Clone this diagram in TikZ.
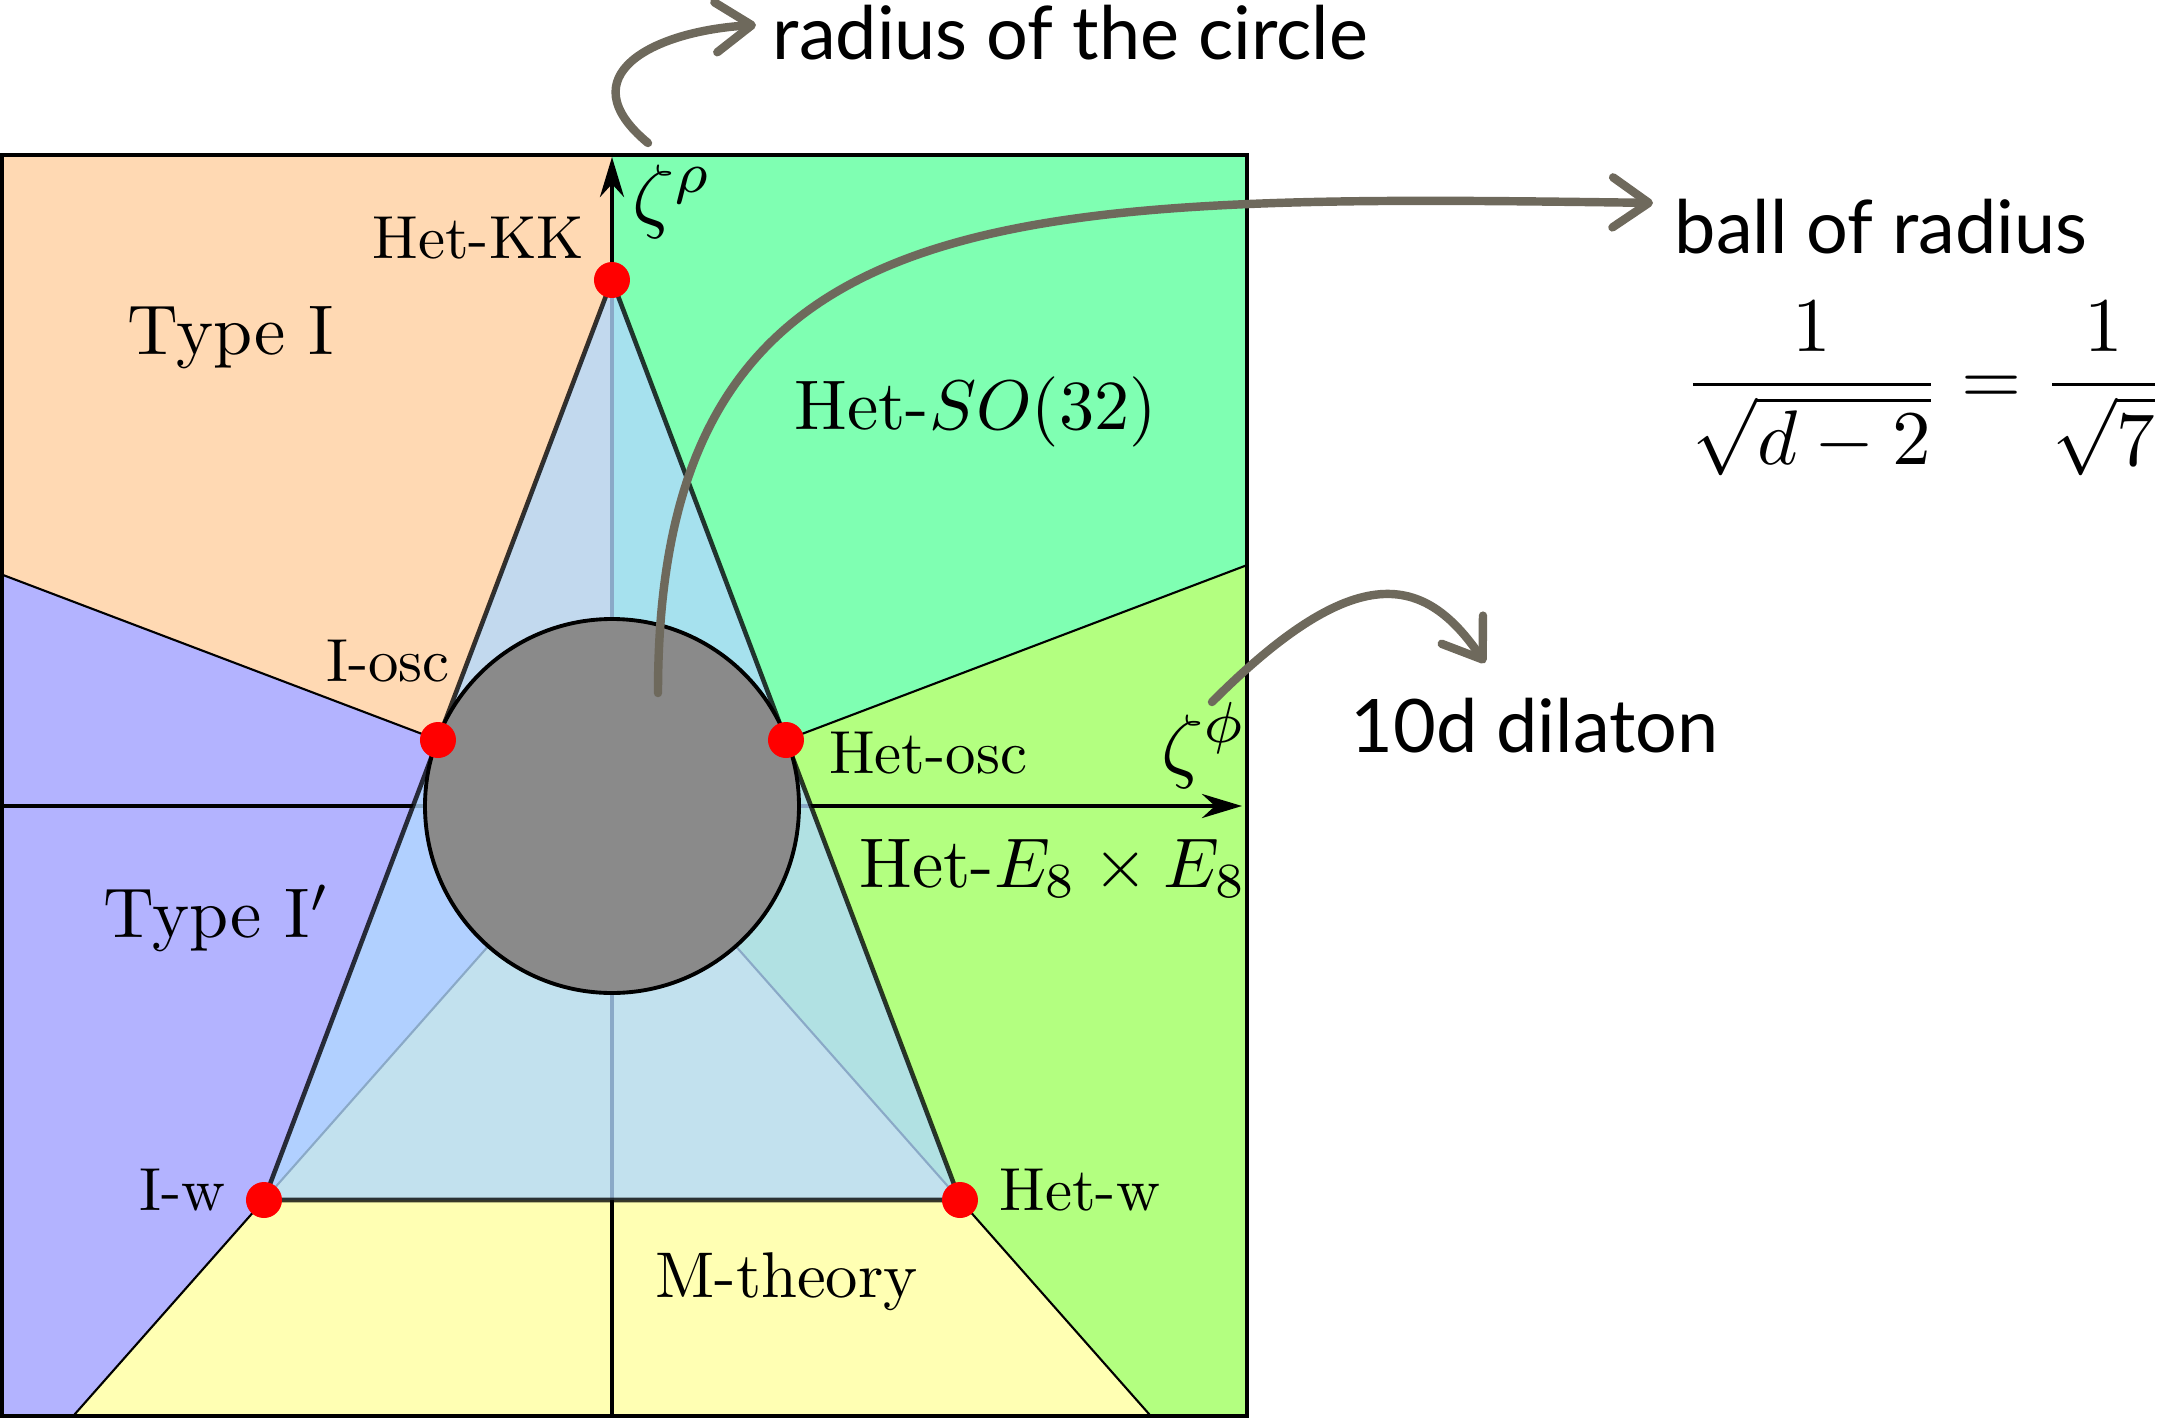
\documentclass[tikz,border=0pt]{standalone}
\usepackage{fontspec}
\newfontfamily\notefont{Lato}
\usetikzlibrary{arrows.meta,calc}

\definecolor{typeIfill}{RGB}{255,217,179}
\definecolor{typeIpfill}{RGB}{179,179,255}
\definecolor{hetsofill}{RGB}{127,255,178}
\definecolor{heteefill}{RGB}{179,255,128}
\definecolor{mthfill}{RGB}{255,255,179}
\definecolor{trifill}{RGB}{177,217,255}
\definecolor{sketchgray}{RGB}{110,105,92}

\begin{document}
\begin{tikzpicture}[
  border/.style={line width=.6pt},
  axisline/.style={line width=1.25pt,-{Stealth[length=4mm,width=2.4mm,inset=1.3mm]}},
  moduli/.style={fill=trifill,draw=black,opacity=.78,line width=1.3pt,line join=round},
  ballfill/.style={fill=black!46,draw=black,line width=1.1pt},
  vertex/.style={circle,fill=red,inner sep=0pt,minimum size=3.6mm},
  vlabel/.style={inner sep=0pt,scale=1.73},
  rlabel/.style={inner sep=0pt,scale=2.0},
  zlabel/.style={inner sep=0pt,scale=2.35},
  note/.style={inner sep=0pt,font=\notefont\fontsize{21}{25}\selectfont},
  sketch/.style={draw=sketchgray,line width=2.4pt,line cap=round,-{Straight Barb[length=3.6mm,width=5mm,round]}}
]
\useasboundingbox (-6.12,-6.13) rectangle (15.55,8.06);

% phases
\fill[typeIfill] (0,0) -- (-6.10,2.314) -- (-6.10,6.51) -- (0,6.51) -- cycle;
\fill[hetsofill] (0,0) -- (0,6.51) -- (6.35,6.51) -- (6.35,2.409) -- cycle;
\fill[heteefill] (0,0) -- (6.35,2.409) -- (6.35,-6.10) -- (5.388,-6.10) -- cycle;
\fill[mthfill] (0,0) -- (5.388,-6.10) -- (-5.388,-6.10) -- cycle;
\fill[typeIpfill] (0,0) -- (-5.388,-6.10) -- (-6.10,-6.10) -- (-6.10,2.314) -- cycle;
\draw[border] (-6.10,2.314) -- (0,0) -- (6.35,2.409);
\draw[border] (-5.388,-6.10) -- (0,0) -- (5.388,-6.10);

% axes and frame
\draw[axisline] (0,-6.10) -- (0,6.49);
\draw[axisline] (-6.10,0) -- (6.30,0);
\draw[line width=1pt] (-6.10,-6.10) rectangle (6.35,6.51);

% polytope and ball
\coordinate (kk) at (0,5.26);
\coordinate (iw) at (-3.48,-3.94);
\coordinate (hw) at (3.48,-3.94);
\coordinate (iosc) at ($(kk)!.5!(iw)$);
\coordinate (hosc) at ($(kk)!.5!(hw)$);
\draw[moduli] (kk) -- (iw) -- (hw) -- cycle;
\draw[ballfill] (0,0) circle (1.87);

\node[vertex] (kkdot) at (kk) {};
\node[vertex] (ioscdot) at (iosc) {};
\node[vertex] (hoscdot) at (hosc) {};
\node[vertex] (iwdot) at (iw) {};
\node[vertex] (hwdot) at (hw) {};

\node[vlabel,anchor=base east] (kklab) at (-0.27,5.48) {Het-KK};
\node[vlabel,anchor=base east] (iosclab) at (-1.61,1.25) {I-osc};
\node[vlabel,anchor=base west] (hosclab) at (2.16,0.33) {Het-osc};
\node[vlabel,anchor=base east] (iwlab) at (-3.85,-4.04) {I-w};
\node[vlabel,anchor=base west] (hwlab) at (3.865,-4.04) {Het-w};

\node[rlabel,anchor=base west] (typeI) at (-4.86,4.52) {Type I};
\node[rlabel,anchor=base west] (typeIp) at (-5.10,-1.315) {Type I$'$};
\node[rlabel,anchor=base west] (hetso) at (1.81,3.77) {Het-$SO(32)$};
\node[rlabel,anchor=base west] (hetee) at (2.46,-0.81) {Het-$E_8\times E_8$};
\node[inner sep=0pt,scale=1.84,anchor=base west] (mth) at (0.42,-4.91) {M-theory};

\node[zlabel,anchor=base west] (zrho) at (0.19,5.835) {$\zeta^\rho$};
\node[zlabel,anchor=base west] (zphi) at (5.48,0.34) {$\zeta^\phi$};

% annotations
\node[note,anchor=base west] (rad) at (1.60,7.47) {radius of the circle};
\node[note,anchor=base west] (ballt) at (10.62,5.53) {ball of radius};
\node[inner sep=0pt,scale=2.2,anchor=base west] (frac) at (10.70,4.02)
  {$\displaystyle\frac{1}{\sqrt{d-2}}=\frac{1}{\sqrt{7}}$};
\node[note,anchor=base west] (dil) at (7.38,0.54) {10d dilaton};

\coordinate (rhotop) at (0.36,6.63);
\coordinate (inball) at (0.46,1.13);
\coordinate (phitop) at (6.00,1.04);
\draw[sketch] (rhotop) .. controls (-0.45,7.3) and (0.4,7.75) .. ([xshift=-0.16cm,yshift=-0.21cm]rad.north west);
\draw[sketch] (inball) .. controls (0.46,6.13) and (3.91,6.12) .. ([xshift=-0.21cm,yshift=-0.05cm]ballt.north west);
\draw[sketch] (phitop) .. controls (7.45,2.49) and (8.13,2.31) .. ([xshift=1.35cm,yshift=0.34cm]dil.north west);
\end{tikzpicture}
\end{document}
